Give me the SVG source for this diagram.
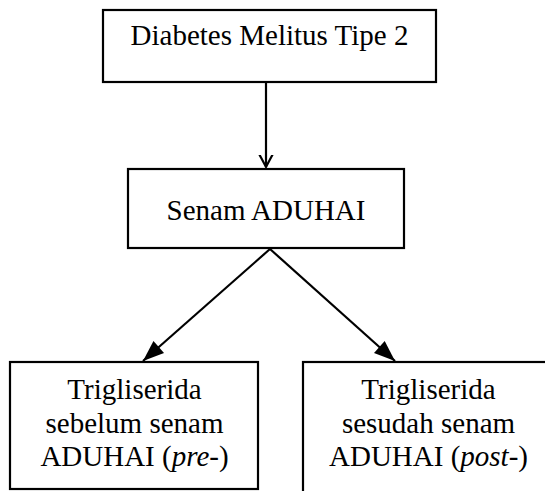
<svg xmlns="http://www.w3.org/2000/svg" width="545" height="491" viewBox="0 0 545 491">
<style>
.box{fill:#fff;stroke:#000;stroke-width:2.2}
.t{font-family:'Liberation Serif','DejaVu Serif',serif;font-size:29px;fill:#000;text-anchor:middle}
.c{stroke:#000;stroke-width:2.2;fill:none}
</style>
<defs>
<marker id="open" markerUnits="userSpaceOnUse" markerWidth="24" markerHeight="24" viewBox="-12 -12 24 24" refX="0" refY="0" orient="auto">
<polyline points="-17,-9 0,0 -17,9" fill="none" stroke="#000" stroke-width="2.2"/>
</marker>
<marker id="solid" markerUnits="userSpaceOnUse" markerWidth="26" markerHeight="26" viewBox="-24 -13 26 26" refX="0" refY="0" orient="auto">
<path d="M0,0 L-21,-8 L-21,8 Z" fill="#000"/>
</marker>
</defs>
<rect width="545" height="491" fill="#fff"/>
<g id="n1">
<rect class="box" x="103" y="10" width="333" height="72"/>
<text class="t" x="269.5" y="45">Diabetes Melitus Tipe 2</text>
</g>
<g id="n2">
<rect class="box" x="128" y="169" width="276" height="79"/>
<text class="t" x="266" y="220">Senam ADUHAI</text>
</g>
<g id="n3">
<rect class="box" x="10" y="362" width="248" height="127"/>
<text class="t" x="134.5" y="399">Trigliserida</text>
<text class="t" x="134.5" y="433">sebelum senam</text>
<text class="t" x="134.5" y="466">ADUHAI (<tspan font-style="italic">pre</tspan>-)</text>
</g>
<g id="n4">
<rect class="box" x="303" y="362" width="250" height="140"/>
<text class="t" x="428.5" y="399">Trigliserida</text>
<text class="t" x="428.5" y="433">sesudah senam</text>
<text class="t" x="428.5" y="466">ADUHAI (<tspan font-style="italic">post</tspan>-)</text>
</g>
<g id="connectors">
<line class="c" x1="266" y1="83" x2="266" y2="167" marker-end="url(#open)"/>
<line class="c" x1="270" y1="249" x2="143" y2="361" marker-end="url(#solid)"/>
<line class="c" x1="270" y1="249" x2="395" y2="361" marker-end="url(#solid)"/>
</g>
</svg>
